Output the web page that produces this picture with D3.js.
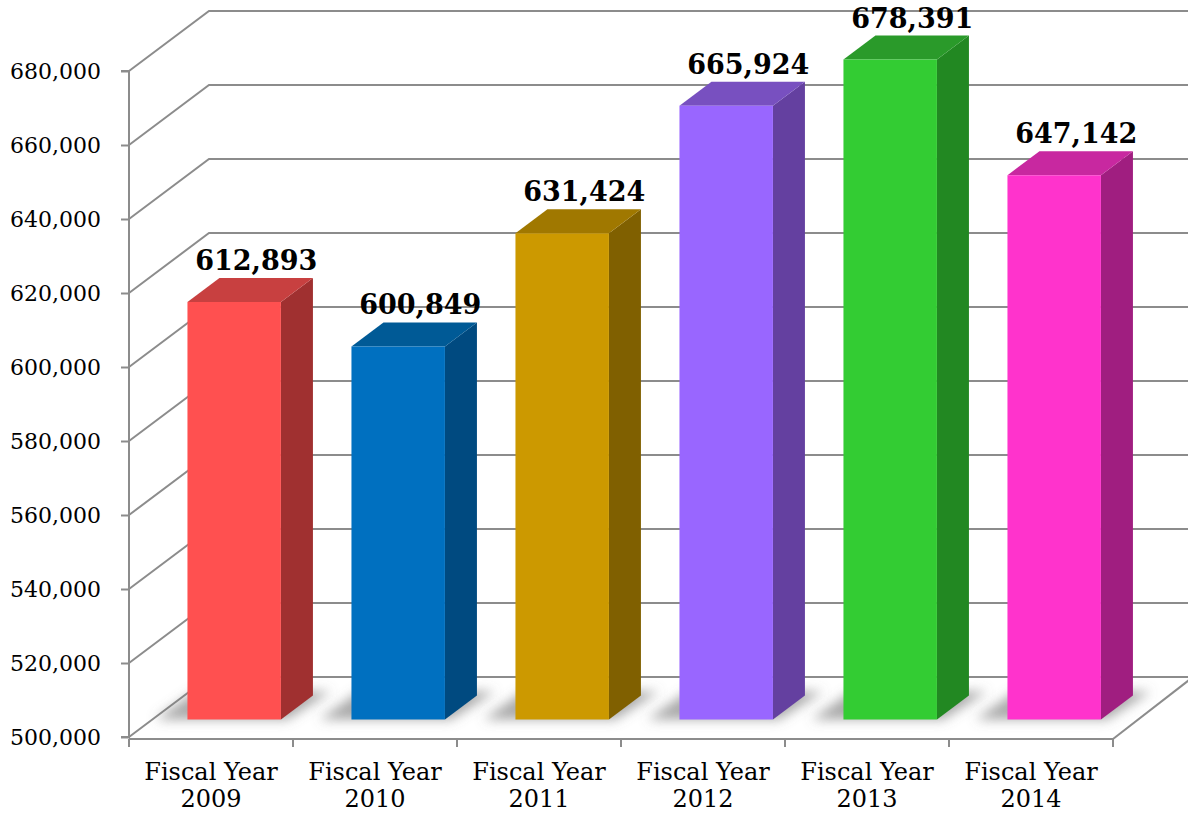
<!DOCTYPE html>
<html>
<head>
<meta charset="utf-8">
<script src="https://cdn.jsdelivr.net/npm/d3@7"></script>
<style>
  body { margin: 0; background: #fff; }
  svg { display: block; }
</style>
</head>
<body>
<svg id="chart" width="1188" height="815"></svg>
<script>
var categories = ["2009", "2010", "2011", "2012", "2013", "2014"];
var values = [612893, 600849, 631424, 665924, 678391, 647142];
var yTicks = [500000, 520000, 540000, 560000, 580000, 600000, 620000, 640000, 660000, 680000];
var frontColors = ["#ff5050", "#0070c0", "#cc9900", "#9966ff", "#33cc33", "#ff33cc"];
var sideColors = ["#a03030", "#004a80", "#806000", "#6440a0", "#228822", "#a01e80"];
var topColors = ["#c84040", "#005a96", "#a07800", "#7850c0", "#2a9a2a", "#c828a0"];

var svg = d3.select("#chart");

var left = 129, right = 1113;
var depthX = 80, depthY = -60;     // offset of the back wall
var barNear = 0.29, barFar = 0.69;  // depth range of the bars

var y = d3.scaleLinear().domain([500000, 680000]).range([737, 71]);
var x = d3.scaleBand().domain(categories).range([left, right]).paddingInner(0.43).paddingOuter(0.215);

function proj(px, py, d) {
  return [px + d * depthX, py + d * depthY];
}

var defs = svg.append("defs");
defs.append("filter")
  .attr("id", "shadowBlur")
  .attr("x", "-50%").attr("y", "-50%").attr("width", "200%").attr("height", "200%")
  .append("feGaussianBlur")
  .attr("stdDeviation", 6);

var grid = "#8c8c8c";

// back wall gridlines with the diagonal on the left side wall
svg.append("g")
  .selectAll("path")
  .data(yTicks)
  .join("path")
  .attr("fill", "none")
  .attr("stroke", grid)
  .attr("stroke-width", 2)
  .attr("d", function(v) {
    var a = [left, y(v)];
    var b = proj(left, y(v), 1);
    var c = proj(right, y(v), 1);
    return d3.line()([a, b, c]);
  });

// floor right edge
var fr = proj(right, y(500000), 1);
svg.append("path")
  .attr("fill", "none")
  .attr("stroke", grid)
  .attr("stroke-width", 2)
  .attr("d", d3.line()([[right, y(500000) + 2], fr]));

// shadows on the floor
svg.append("g")
  .selectAll("path")
  .data(values)
  .join("path")
  .attr("filter", "url(#shadowBlur)")
  .attr("fill", "#707070")
  .attr("fill-opacity", 0.6)
  .attr("d", function(v, i) {
    var x0 = x(categories[i]), x1 = x0 + x.bandwidth();
    var y0 = y(500000);
    var p1 = proj(x0 - 24, y0 - 4, barFar);
    var p2 = proj(x1 + 18, y0 - 4, barFar);
    var p3 = proj(x1 + 6, y0, barNear);
    var p4 = proj(x0 - 32, y0, barNear);
    return d3.line()([p1, p2, p3, p4]) + "Z";
  });

// bars
var bars = svg.append("g")
  .selectAll("g")
  .data(values)
  .join("g");

bars.append("path")
  .attr("fill", function(v, i) { return sideColors[i]; })
  .attr("d", function(v, i) {
    var x1 = x(categories[i]) + x.bandwidth();
    return d3.line()([
      proj(x1, y(v), barNear), proj(x1, y(v), barFar),
      proj(x1, y(500000), barFar), proj(x1, y(500000), barNear)
    ]) + "Z";
  });

bars.append("path")
  .attr("fill", function(v, i) { return topColors[i]; })
  .attr("d", function(v, i) {
    var x0 = x(categories[i]), x1 = x0 + x.bandwidth();
    return d3.line()([
      proj(x0, y(v), barNear), proj(x0, y(v), barFar),
      proj(x1, y(v), barFar), proj(x1, y(v), barNear)
    ]) + "Z";
  });

bars.append("path")
  .attr("fill", function(v, i) { return frontColors[i]; })
  .attr("d", function(v, i) {
    var x0 = x(categories[i]), x1 = x0 + x.bandwidth();
    return d3.line()([
      proj(x0, y(v), barNear), proj(x1, y(v), barNear),
      proj(x1, y(500000), barNear), proj(x0, y(500000), barNear)
    ]) + "Z";
  });

// value labels
bars.append("text")
  .attr("text-anchor", "middle")
  .attr("font-family", "DejaVu Serif")
  .attr("font-weight", "bold")
  .attr("font-size", "27px")
  .attr("fill", "#000")
  .attr("x", function(v, i) {
    return proj(x(categories[i]) + x.bandwidth() / 2, 0, (barNear + barFar) / 2)[0] + 6;
  })
  .attr("y", function(v) { return proj(0, y(v), barFar)[1] - 8; })
  .text(function(v) { return d3.format(",")(v); });

// y axis
var yAxis = svg.append("g")
  .attr("transform", "translate(" + left + ",0)")
  .call(d3.axisLeft(y).tickValues(yTicks).tickFormat(d3.format(",")).tickSize(8).tickPadding(20));
yAxis.select(".domain").attr("stroke", grid).attr("stroke-width", 2).attr("d", "M-8," + y(680000) + "H0V" + y(500000) + "H-8");
yAxis.selectAll(".tick line").attr("stroke", grid).attr("stroke-width", 2);
yAxis.selectAll(".tick text")
  .attr("font-family", "DejaVu Serif")
  .attr("font-size", "22px")
  .attr("fill", "#000");

// x axis
var xAxis = svg.append("g")
  .attr("transform", "translate(0," + (y(500000) + 2) + ")")
  .call(d3.axisBottom(x).tickSize(0).tickFormat(""));
xAxis.select(".domain").attr("stroke", grid).attr("stroke-width", 2).attr("d", "M" + left + ",0H" + right);

var boundaries = categories.map(function(c) { return x(c) - x.step() * x.paddingInner() / 2; });
boundaries[0] = left;
boundaries.push(right);
xAxis.selectAll(".bound")
  .data(boundaries)
  .join("line")
  .attr("class", "bound")
  .attr("x1", function(d) { return d; })
  .attr("x2", function(d) { return d; })
  .attr("y1", 0)
  .attr("y2", 8)
  .attr("stroke", grid)
  .attr("stroke-width", 2);

var catLabels = svg.append("g")
  .selectAll("text")
  .data(categories)
  .join("text")
  .attr("text-anchor", "middle")
  .attr("font-family", "DejaVu Serif")
  .attr("font-size", "24px")
  .attr("fill", "#000")
  .attr("x", function(c) { return x(c) + x.bandwidth() / 2; });

catLabels.append("tspan")
  .attr("y", 780)
  .attr("x", function(c) { return x(c) + x.bandwidth() / 2; })
  .text("Fiscal Year");
catLabels.append("tspan")
  .attr("y", 807)
  .attr("x", function(c) { return x(c) + x.bandwidth() / 2; })
  .text(function(c) { return c; });
</script>
</body>
</html>
